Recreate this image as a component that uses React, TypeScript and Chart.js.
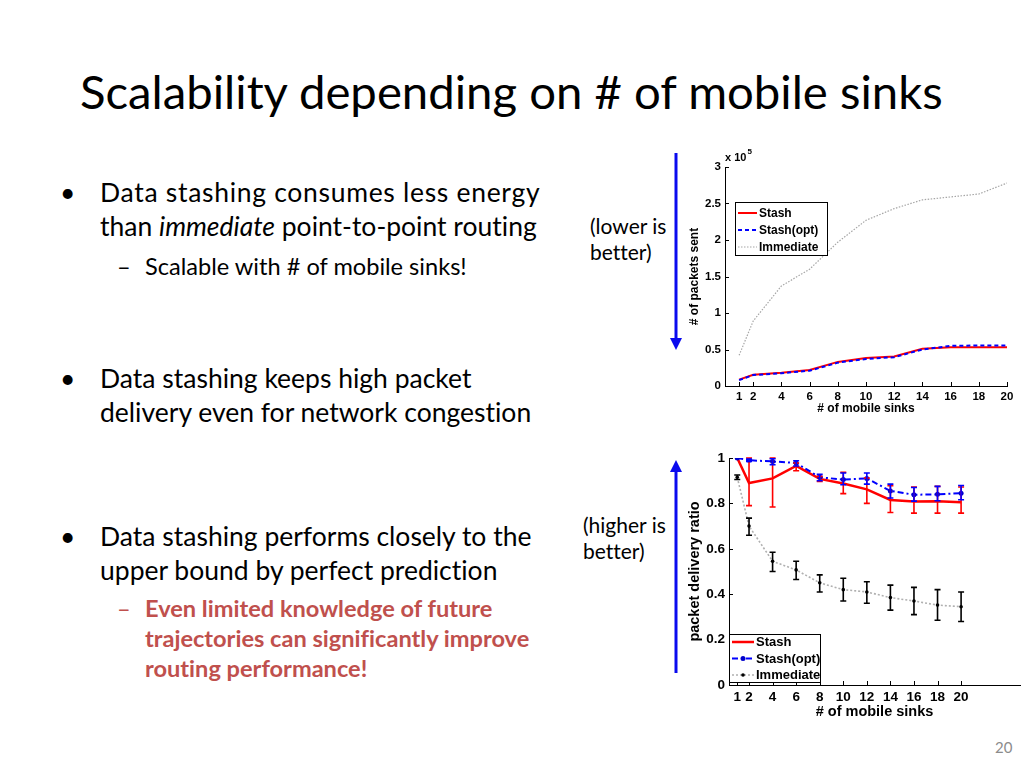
import React, { useEffect, useRef } from "react";
import { Chart, registerables } from "chart.js";

Chart.register(...registerables);

// ---------- data ----------
const sinks = [1, 2, 4, 6, 8, 10, 12, 14, 16, 18, 20];
const xTickValues = [1, 2, 4, 6, 8, 10, 12, 14, 16, 18, 20];
const sentTicks = [0, 50000, 100000, 150000, 200000, 250000, 300000];
const pdrTicks = [0, 0.2, 0.4, 0.6, 0.8, 1];

const stashSent = [8700, 15500, 18000, 22000, 33000, 38500, 40500, 51000, 53000, 53000, 53000];
const stashOptSent = [8000, 15000, 17500, 21000, 32000, 37000, 39500, 50000, 55000, 55500, 55500];
const immediateSent = [42000, 89000, 137000, 160000, 197000, 227000, 243000, 255000, 259000, 263000, 278000];

const stashPdr = [1.0, 0.89, 0.91, 0.965, 0.908, 0.888, 0.862, 0.815, 0.808, 0.81, 0.805];
const stashPdrLow = [1.0, 0.79, 0.784, 0.944, 0.897, 0.843, 0.8, 0.76, 0.757, 0.757, 0.757];
const stashPdrHigh = [1.0, 1.0, 1.0, 0.978, 0.919, 0.937, 0.912, 0.878, 0.872, 0.875, 0.872];
const stashOptPdr = [1.0, 0.99, 0.985, 0.978, 0.915, 0.905, 0.91, 0.855, 0.838, 0.84, 0.845];
const stashOptPdrLow = [1.0, 0.985, 0.97, 0.965, 0.9, 0.882, 0.885, 0.824, 0.81, 0.812, 0.816];
const stashOptPdrHigh = [1.0, 0.995, 0.997, 0.988, 0.928, 0.934, 0.934, 0.885, 0.87, 0.875, 0.879];
const immediatePdr = [0.915, 0.7, 0.545, 0.507, 0.45, 0.42, 0.41, 0.385, 0.37, 0.352, 0.345];
const immediatePdrLow = [0.905, 0.66, 0.5, 0.465, 0.41, 0.37, 0.36, 0.33, 0.31, 0.285, 0.28];
const immediatePdrHigh = [0.925, 0.735, 0.585, 0.545, 0.485, 0.47, 0.455, 0.44, 0.43, 0.42, 0.41];

const CHART_FONT = "'Liberation Sans', Arial, sans-serif";
const SLIDE_FONT = "Lato, 'Open Sans', sans-serif";

const pts = (ys: number[]) => sinks.map((x, i) => ({ x, y: ys[i] }));

// ---------- plugin: error bars, inward ticks, boxed legend, exponent ----------
const decorPlugin: any = {
  id: "decor",
  afterDatasetsDraw(chart: any, _a: any, opts: any) {
    const ctx = chart.ctx;
    const xs = chart.scales.x;
    const ys = chart.scales.y;
    (opts.errorBars || []).forEach((eb: any) => {
      ctx.save();
      ctx.strokeStyle = eb.color;
      ctx.lineWidth = eb.width;
      ctx.setLineDash([]);
      eb.x.forEach((xv: number, i: number) => {
        const px = xs.getPixelForValue(xv);
        const pl = ys.getPixelForValue(eb.low[i]);
        const ph = ys.getPixelForValue(eb.high[i]);
        if (Math.abs(pl - ph) < 0.5) return;
        ctx.beginPath();
        ctx.moveTo(px, pl);
        ctx.lineTo(px, ph);
        ctx.moveTo(px - eb.cap, pl);
        ctx.lineTo(px + eb.cap, pl);
        ctx.moveTo(px - eb.cap, ph);
        ctx.lineTo(px + eb.cap, ph);
        ctx.stroke();
      });
      ctx.restore();
    });
  },
  afterDraw(chart: any, _a: any, opts: any) {
    const ctx = chart.ctx;
    const area = chart.chartArea;
    const xs = chart.scales.x;
    const ys = chart.scales.y;
    // inward ticks
    ctx.save();
    ctx.strokeStyle = "#000";
    ctx.lineWidth = 1;
    ctx.setLineDash([]);
    ctx.beginPath();
    xs.ticks.forEach((t: any) => {
      const px = Math.round(xs.getPixelForValue(t.value)) + 0.5;
      ctx.moveTo(px, area.bottom);
      ctx.lineTo(px, area.bottom - 4);
    });
    ys.ticks.forEach((t: any) => {
      const py = Math.round(ys.getPixelForValue(t.value)) + 0.5;
      ctx.moveTo(area.left, py);
      ctx.lineTo(area.left + 4, py);
    });
    ctx.stroke();
    ctx.restore();

    // legend box
    const lg = opts.legend;
    if (lg) {
      const bx = area.left + lg.dx;
      const by = lg.fromBottom ? area.bottom - lg.dy - lg.h : area.top + lg.dy;
      ctx.save();
      ctx.fillStyle = "#fff";
      ctx.fillRect(bx, by, lg.w, lg.h);
      ctx.strokeStyle = "#000";
      ctx.lineWidth = 1;
      ctx.strokeRect(Math.round(bx) + 0.5, Math.round(by) + 0.5, lg.w, lg.h);
      chart.data.datasets.forEach((ds: any, i: number) => {
        const cy = by + lg.firstRow + i * lg.rowH;
        ctx.save();
        ctx.strokeStyle = ds.borderColor;
        ctx.lineWidth = ds.borderWidth;
        ctx.setLineDash(ds.borderDash || []);
        ctx.beginPath();
        ctx.moveTo(bx + lg.lineX0, cy);
        ctx.lineTo(bx + lg.lineX1, cy);
        ctx.stroke();
        if (ds.pointRadius > 0) {
          ctx.setLineDash([]);
          ctx.fillStyle = ds.pointBackgroundColor;
          ctx.beginPath();
          ctx.arc(bx + (lg.lineX0 + lg.lineX1) / 2, cy, ds.pointRadius, 0, Math.PI * 2);
          ctx.fill();
        }
        ctx.restore();
        ctx.fillStyle = "#000";
        ctx.font = `bold ${lg.fontSize}px ${CHART_FONT}`;
        ctx.textBaseline = "middle";
        ctx.textAlign = "left";
        ctx.fillText(ds.label, bx + lg.textX, cy + 0.5);
      });
      ctx.restore();
    }

    // exponent label
    if (opts.exponent) {
      ctx.save();
      ctx.fillStyle = "#000";
      ctx.textBaseline = "middle";
      ctx.textAlign = "left";
      ctx.font = `bold 11px ${CHART_FONT}`;
      const base = "x 10";
      ctx.fillText(base, area.left, area.top - 9);
      const w = ctx.measureText(base).width;
      ctx.font = `bold 8px ${CHART_FONT}`;
      ctx.fillText(opts.exponent, area.left + w + 1, area.top - 15);
      ctx.restore();
    }
  },
};

function axes(p: any) {
  const font = (size: number) => ({ family: CHART_FONT, size, weight: "bold" as const });
  return {
    x: {
      type: "linear",
      min: p.xMin,
      max: p.xMax,
      grid: { display: false, drawTicks: false },
      border: { display: true, color: "#000", width: 1 },
      ticks: {
        color: "#000",
        font: font(p.tickSize),
        padding: 4,
        autoSkip: false,
        maxRotation: 0,
        callback: (v: number) => String(v),
      },
      afterBuildTicks: (s: any) => {
        s.ticks = xTickValues.map((v) => ({ value: v }));
      },
      afterFit: (s: any) => {
        s.height = p.xHeight;
      },
      title: {
        display: true,
        text: "# of mobile sinks",
        color: "#000",
        font: font(p.titleSize),
        padding: { top: 0, bottom: p.xTitlePad },
      },
    },
    y: {
      type: "linear",
      min: p.yMin,
      max: p.yMax,
      grid: { display: false, drawTicks: false },
      border: { display: true, color: "#000", width: 1 },
      ticks: {
        color: "#000",
        font: font(p.tickSize),
        padding: 4,
        autoSkip: false,
        callback: p.yFormat,
      },
      afterBuildTicks: (s: any) => {
        s.ticks = p.yTicks.map((v: number) => ({ value: v }));
      },
      afterFit: (s: any) => {
        s.width = p.yWidth;
      },
      title: {
        display: true,
        text: p.yTitle,
        color: "#000",
        font: font(p.titleSize),
        padding: { top: p.yTitlePad, bottom: 0 },
      },
    },
  };
}

function topConfig(): any {
  return {
    type: "line",
    data: {
      datasets: [
        { label: "Stash", data: pts(stashSent), borderColor: "#ff0000", borderWidth: 2, pointRadius: 0, tension: 0, order: 2 },
        { label: "Stash(opt)", data: pts(stashOptSent), borderColor: "#0000ff", borderWidth: 2, borderDash: [4, 3], pointRadius: 0, tension: 0, order: 1 },
        { label: "Immediate", data: pts(immediateSent), borderColor: "#a6a6a6", borderWidth: 1.2, borderDash: [1.5, 1.5], pointRadius: 0, tension: 0, order: 3 },
      ],
    },
    options: {
      animation: false,
      responsive: true,
      maintainAspectRatio: false,
      layout: { padding: { top: 27, right: 13, bottom: 0, left: 0 } },
      plugins: {
        legend: { display: false },
        tooltip: { enabled: false },
        decor: {
          exponent: "5",
          legend: { dx: 10, dy: 35, w: 92, h: 53, fromBottom: false, firstRow: 11, rowH: 17, lineX0: 3, lineX1: 22, textX: 24, fontSize: 12 },
        },
      },
      scales: axes({
        xMin: 0, xMax: 20, yMin: 0, yMax: 300000, yTicks: sentTicks,
        yFormat: (v: number) => String(v / 100000),
        yTitle: "# of packets sent", tickSize: 11.5, titleSize: 12,
        xHeight: 46, xTitlePad: 16, yWidth: 65, yTitlePad: 27,
      }),
    },
    plugins: [decorPlugin],
  };
}

function bottomConfig(): any {
  return {
    type: "line",
    data: {
      datasets: [
        { label: "Stash", data: pts(stashPdr), borderColor: "#ff0000", borderWidth: 2.5, pointRadius: 0, tension: 0, order: 2 },
        { label: "Stash(opt)", data: pts(stashOptPdr), borderColor: "#0000ff", borderWidth: 2, borderDash: [6, 3, 2, 3], pointRadius: 2.5, pointBackgroundColor: "#0000cc", pointBorderWidth: 0, tension: 0, order: 1 },
        { label: "Immediate", data: pts(immediatePdr), borderColor: "#b0b0b0", borderWidth: 1.6, borderDash: [2, 2], pointRadius: 1.8, pointBackgroundColor: "#000", pointBorderWidth: 0, tension: 0, order: 3 },
      ],
    },
    options: {
      animation: false,
      responsive: true,
      maintainAspectRatio: false,
      layout: { padding: { top: 18, right: 2, bottom: 0, left: 0 } },
      plugins: {
        legend: { display: false },
        tooltip: { enabled: false },
        decor: {
          errorBars: [
            { x: sinks, low: stashPdrLow, high: stashPdrHigh, color: "#ff0000", width: 1.6, cap: 3 },
            { x: sinks, low: stashOptPdrLow, high: stashOptPdrHigh, color: "#0000ff", width: 1.6, cap: 3 },
            { x: sinks, low: immediatePdrLow, high: immediatePdrHigh, color: "#000", width: 1.6, cap: 3 },
          ],
          legend: { dx: 0, dy: 3, w: 91, h: 48, fromBottom: true, firstRow: 8, rowH: 16.5, lineX0: 3, lineX1: 25, textX: 27, fontSize: 13 },
        },
      },
      scales: axes({
        xMin: 0.3, xMax: 25, yMin: 0, yMax: 1, yTicks: pdrTicks,
        yFormat: (v: number) => (v === 0 || v === 1 ? String(v) : v.toFixed(1)),
        yTitle: "packet delivery ratio", tickSize: 13.5, titleSize: 14.5,
        xHeight: 45, xTitlePad: 9, yWidth: 69, yTitlePad: 26,
      }),
    },
    plugins: [decorPlugin],
  };
}

function ChartBox(props: { make: () => any; left: number; top: number; width: number; height: number }) {
  const ref = useRef<HTMLCanvasElement>(null);
  useEffect(() => {
    const chart = new Chart(ref.current as HTMLCanvasElement, props.make());
    return () => chart.destroy();
  }, []);
  return (
    <div style={{ position: "absolute", left: props.left, top: props.top, width: props.width, height: props.height }}>
      <canvas ref={ref} />
    </div>
  );
}

function Line(props: { x: number; base: number; size: number; children: any; style?: any }) {
  return (
    <div
      style={{
        position: "absolute",
        left: props.x,
        top: props.base - 0.887 * props.size,
        fontSize: props.size,
        lineHeight: `${props.size}px`,
        whiteSpace: "nowrap",
        fontFamily: SLIDE_FONT,
        fontVariantLigatures: "none",
        color: "#000",
        ...(props.style || {}),
      }}
    >
      {props.children}
    </div>
  );
}

export default function App() {
  const B = 26.5;
  const S = 23.6;
  const red = { color: "#c0504d", fontWeight: 700 };
  return (
    <div style={{ position: "fixed", left: 0, top: 0, width: 1024, height: 768, background: "#fff", overflow: "hidden" }}>
      <Line x={80} base={109} size={47.3}>Scalability depending on # of mobile sinks</Line>

      <Line x={60} base={203} size={B}>•</Line>
      <Line x={100} base={203} size={B} style={{ letterSpacing: "0.7px" }}>Data stashing consumes less energy</Line>
      <Line x={100} base={237} size={B}>than <i>immediate</i> point-to-point routing</Line>
      <Line x={117} base={276} size={S}>–</Line>
      <Line x={145} base={276} size={S}>Scalable with # of mobile sinks!</Line>

      <Line x={60} base={389} size={B}>•</Line>
      <Line x={100} base={389} size={B}>Data stashing keeps high packet</Line>
      <Line x={100} base={423} size={B}>delivery even for network congestion</Line>

      <Line x={60} base={547} size={B}>•</Line>
      <Line x={100} base={547} size={B}>Data stashing performs closely to the</Line>
      <Line x={100} base={581} size={B}>upper bound by perfect prediction</Line>
      <Line x={117} base={618} size={S} style={{ color: "#c0504d" }}>–</Line>
      <Line x={145} base={618} size={S} style={red}>Even limited knowledge of future</Line>
      <Line x={145} base={648} size={S} style={red}>trajectories can significantly improve</Line>
      <Line x={145} base={678} size={S} style={red}>routing performance!</Line>

      <Line x={590} base={234} size={21}>(lower is</Line>
      <Line x={590} base={260} size={21}>better)</Line>
      <Line x={583} base={533} size={21}>(higher is</Line>
      <Line x={583} base={559} size={21}>better)</Line>

      <Line x={995} base={753} size={15} style={{ color: "#8c8c8c" }}>20</Line>

      <svg style={{ position: "absolute", left: 0, top: 0 }} width={1024} height={768}>
        <line x1={676} y1={153} x2={676} y2={340} stroke="#0a0aee" strokeWidth={3} />
        <polygon points="670,338 682,338 676,350" fill="#0a0aee" />
        <line x1={676} y1={673} x2={676} y2={470} stroke="#0a0aee" strokeWidth={3} />
        <polygon points="670,472 682,472 676,460" fill="#0a0aee" />
      </svg>

      <ChartBox make={topConfig} left={660} top={140} width={360} height={292} />
      <ChartBox make={bottomConfig} left={660} top={440} width={364} height={290} />
    </div>
  );
}
